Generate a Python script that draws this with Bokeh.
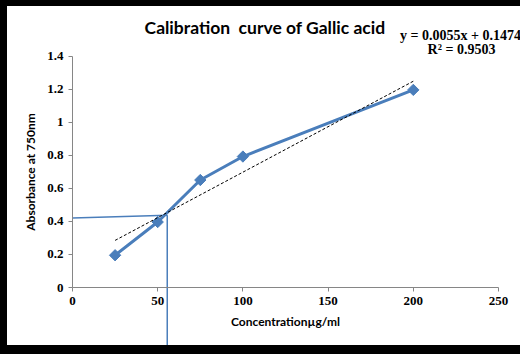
from bokeh.plotting import figure
from bokeh.models import Range1d, Label, LinearAxis, FixedTicker, ColumnDataSource
from bokeh.embed import file_html
from bokeh.resources import INLINE

# ---- data ----
conc = [25, 50, 75, 100, 200]
absorb = [0.195, 0.396, 0.65, 0.792, 1.195]
slope = 0.0055
intercept = 0.1474
fit_x = [25, 200]
fit_y = [slope * v + intercept for v in fit_x]
# read-off guide lines (unknown sample)
guide_h_x = [0, 55.6]
guide_h_y = [0.42, 0.437]
guide_v_x = [55.6, 55.6]
guide_v_y = [0.437, -0.35]
x_ticks = [0, 50, 100, 150, 200, 250]
y_ticks = [0, 0.2, 0.4, 0.6, 0.8, 1, 1.2, 1.4]
title_text = "Calibration\u00a0 curve of Gallic acid"
eq_text = "y = 0.0055x + 0.1474"
r2_text = "R\u00b2 = 0.9503"
x_title = "Concentration\u00b5g/ml"
y_title = "Absorbance at 750nm"

# ---- layout (pixels) ----
W, H = 520, 345
AX_LEFT, AX_RIGHT = 72, 498      # pixel of x=0 and x=250
AX_BOTTOM, AX_TOP = 287, 55.5    # pixel of y=0 and y=1.4
sx = (AX_RIGHT - AX_LEFT) / 250.0
sy = (AX_BOTTOM - AX_TOP) / 1.4


def dx(px):
    return (px - AX_LEFT) / sx


def dy(py):
    return (AX_BOTTOM - py) / sy


blue = "#4A7EBB"
axis_gray = "#868686"
serif = "Liberation Serif"
sans = "Lato"

p = figure(width=W, height=H, output_backend="svg", toolbar_location=None,
           x_range=Range1d(dx(0), dx(W)), y_range=Range1d(dy(H), dy(0)),
           x_axis_location=None, y_axis_location=None,
           min_border_left=0, min_border_right=0, min_border_top=0, min_border_bottom=0)
p.styles = {"background-color": "white",
            "box-shadow": "inset 7px 6px 0 0 black, 0 9px 0 0 black"}
p.grid.visible = False
p.outline_line_color = None
p.background_fill_alpha = 0
p.border_fill_alpha = 0

xaxis = LinearAxis(fixed_location=0, bounds=(0, 250), ticker=FixedTicker(ticks=x_ticks))
yaxis = LinearAxis(fixed_location=0, bounds=(0, 1.4), ticker=FixedTicker(ticks=y_ticks))
yaxis.major_label_overrides = {0: "0", 1: "1"}
xaxis.axis_label = x_title
yaxis.axis_label = y_title
for ax in (xaxis, yaxis):
    ax.axis_line_color = axis_gray
    ax.major_tick_line_color = axis_gray
    ax.minor_tick_line_color = None
    ax.major_tick_in = 0
    ax.major_tick_out = 4
    ax.major_label_text_font = serif
    ax.major_label_text_font_style = "bold"
    ax.major_label_text_font_size = "13px"
    ax.major_label_text_color = "black"
    ax.major_label_standoff = 5
    ax.axis_label_text_font = sans
    ax.axis_label_text_font_style = "bold"
    ax.axis_label_text_font_size = "12px"
    ax.axis_label_text_color = "black"
    ax.axis_label_standoff = 6
p.add_layout(xaxis, "below")
p.add_layout(yaxis, "left")

# guide lines
p.line(guide_h_x, guide_h_y, line_color=blue, line_width=1.5)
p.line(guide_v_x, guide_v_y, line_color=blue, line_width=1.5)

# series
src = ColumnDataSource(dict(x=conc, y=absorb))
p.line("x", "y", source=src, line_color=blue, line_width=3)
p.scatter("x", "y", source=src, marker="square", angle=0.7854, size=8,
          fill_color=blue, line_color=blue)
# linear trendline
p.line(fit_x, fit_y, line_color="black", line_width=1, line_dash="3 2")

# texts
p.add_layout(Label(x=dx(264.5), y=dy(27.3), text=title_text, text_align="center",
                   text_baseline="middle", text_font=sans, text_font_style="bold",
                   text_font_size="17.5px", text_color="black"))
p.add_layout(Label(x=dx(460), y=dy(35), text=eq_text, text_align="center",
                   text_baseline="middle", text_font=serif, text_font_style="bold",
                   text_font_size="14px", text_color="black"))
p.add_layout(Label(x=dx(461), y=dy(49.3), text=r2_text, text_align="center",
                   text_baseline="middle", text_font=serif, text_font_style="bold",
                   text_font_size="14px", text_color="black"))

open("out.html", "w").write(file_html(p, INLINE))
